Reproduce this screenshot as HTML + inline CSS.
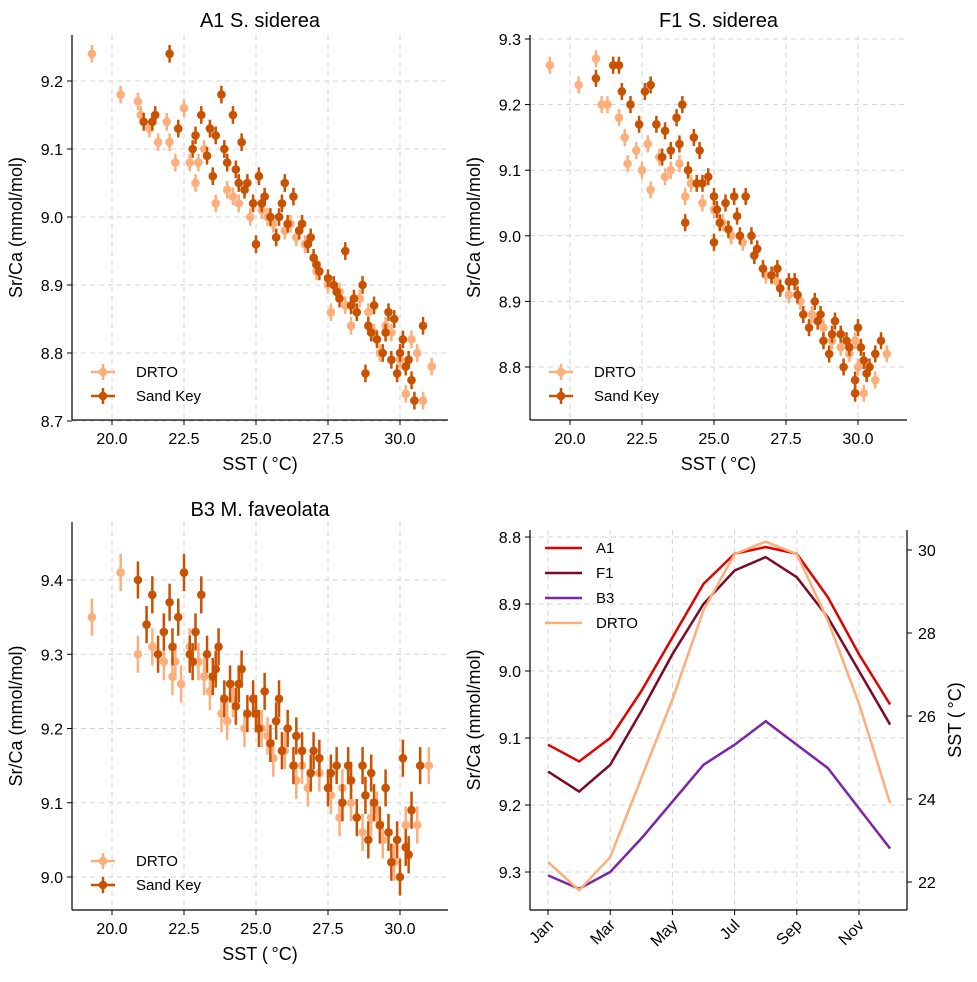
<!DOCTYPE html>
<html><head><meta charset="utf-8"><style>
body{margin:0;background:#fff}
svg{font-family:"Liberation Sans",Arial,sans-serif}
</style></head><body>
<svg id="c" width="977" height="977" viewBox="0 0 977 977" xmlns="http://www.w3.org/2000/svg"></svg>
<script>
// ---- data ----
const a1SandKey=[[22,9.24],[21.1,9.14],[21.5,9.15],[22.3,9.13],[22.8,9.10],[23.1,9.15],[23.4,9.13],[23.6,9.12],[23.8,9.18],[23.5,9.06],[24.0,9.08],[24.3,9.07],[24.5,9.11],[24.7,9.05],[24.9,9.02],[25.1,9.06],[25.3,9.03],[25.5,9.00],[25.7,8.97],[25.9,9.02],[26.1,8.99],[26.3,9.03],[26.5,8.98],[26.8,8.96],[27.0,8.94],[27.2,8.92],[27.5,8.91],[27.7,8.90],[27.9,8.88],[28.1,8.95],[28.3,8.87],[28.5,8.86],[28.7,8.90],[28.9,8.84],[29.1,8.87],[29.2,8.82],[29.4,8.80],[29.6,8.86],[29.8,8.85],[29.9,8.77],[30.1,8.82],[30.3,8.79],[30.4,8.76],[30.8,8.84],[28.8,8.77],[30.5,8.73],[24.2,9.15],[25.0,8.96],[26.0,9.05],
[21.4,9.14],[22.9,9.12],[23.3,9.09],[23.9,9.10],[24.6,9.04],[25.2,9.02],[25.8,9.00],[26.6,8.99],[27.1,8.93],[27.8,8.89],[28.4,8.88],[29.0,8.83],[29.5,8.83],[30.0,8.80],[30.2,8.78],[29.7,8.79],[26.9,8.97],[24.4,9.05]];
const a1Drto=[[19.3,9.24],[20.3,9.18],[20.9,9.17],[21.3,9.13],[21.6,9.11],[21.9,9.14],[22.2,9.08],[22.5,9.16],[22.7,9.08],[22.9,9.05],[23.2,9.10],[23.6,9.02],[24.0,9.04],[24.4,9.02],[24.8,9.00],[25.2,9.01],[25.6,8.99],[26.0,8.98],[26.4,8.97],[26.7,8.96],[27.1,8.92],[27.5,8.90],[27.6,8.86],[27.9,8.89],[28.3,8.84],[28.6,8.88],[28.9,8.86],[29.3,8.80],[29.5,8.84],[29.7,8.83],[30.0,8.79],[30.2,8.74],[30.6,8.80],[30.8,8.73],[31.1,8.78],[30.4,8.82],
[21.0,9.15],[22.0,9.11],[23.0,9.08],[24.2,9.03],[25.4,9.00],[26.2,8.99],[28.1,8.87],[29.1,8.83]];
const f1SandKey=[[20.9,9.24],[21.5,9.26],[21.7,9.26],[21.8,9.22],[22.1,9.20],[22.6,9.22],[22.8,9.23],[23.0,9.17],[23.3,9.16],[23.5,9.13],[23.7,9.18],[23.9,9.20],[24.1,9.10],[24.3,9.15],[24.5,9.13],[24.6,9.08],[24.8,9.09],[25.0,9.06],[25.2,9.02],[25.4,9.05],[25.5,9.01],[25.7,9.06],[25.9,9.00],[26.1,9.06],[26.3,9.00],[26.5,8.98],[26.7,8.95],[27.0,8.94],[27.3,8.92],[27.6,8.93],[27.9,8.91],[28.1,8.88],[28.3,8.86],[28.5,8.90],[28.7,8.88],[28.8,8.84],[29.0,8.82],[29.2,8.87],[29.4,8.85],[29.5,8.80],[29.7,8.83],[29.9,8.78],[30.0,8.86],[30.2,8.81],[30.3,8.79],[30.6,8.82],[30.8,8.84],[29.9,8.76],[24.0,9.02],[25.0,8.99],
[22.4,9.17],[23.2,9.12],[23.8,9.14],[24.4,9.08],[25.1,9.04],[25.8,9.03],[26.4,8.97],[27.2,8.95],[27.8,8.93],[28.6,8.87],[29.1,8.85],[29.6,8.84],[30.1,8.83],[30.4,8.80]];
const f1Drto=[[19.3,9.26],[20.3,9.23],[20.9,9.27],[21.3,9.20],[21.7,9.18],[22.0,9.11],[22.3,9.13],[22.5,9.10],[22.8,9.07],[23.1,9.12],[23.5,9.10],[23.8,9.11],[24.2,9.08],[24.6,9.05],[25.0,9.04],[25.3,9.02],[25.6,9.00],[26.0,8.99],[26.4,8.97],[26.8,8.94],[27.2,8.93],[27.6,8.91],[28.0,8.90],[28.4,8.88],[28.8,8.86],[29.1,8.84],[29.4,8.83],[29.7,8.82],[30.0,8.80],[30.2,8.76],[30.6,8.78],[31.0,8.82],
[21.1,9.20],[21.9,9.15],[22.7,9.14],[23.3,9.09],[24.0,9.06],[25.5,9.01],[27.0,8.94],[29.9,8.84]];
const b3SandKey=[[20.9,9.40],[21.2,9.34],[21.4,9.38],[21.6,9.30],[21.8,9.33],[22.0,9.37],[22.3,9.35],[22.5,9.41],[22.7,9.30],[22.9,9.33],[23.1,9.38],[23.3,9.30],[23.5,9.27],[23.7,9.31],[23.9,9.24],[24.1,9.26],[24.3,9.23],[24.5,9.28],[24.7,9.22],[24.9,9.24],[25.1,9.20],[25.3,9.25],[25.5,9.18],[25.7,9.21],[25.9,9.17],[26.1,9.20],[26.3,9.15],[26.6,9.17],[26.9,9.14],[27.2,9.16],[27.5,9.12],[27.8,9.15],[28.0,9.10],[28.3,9.13],[28.5,9.08],[28.7,9.15],[28.9,9.05],[29.1,9.10],[29.3,9.07],[29.5,9.12],[29.7,9.02],[29.9,9.05],[30.0,9.00],[30.2,9.04],[30.4,9.09],[30.7,9.15],[30.1,9.16],[29.0,9.14],
[22.1,9.31],[22.8,9.29],[23.6,9.28],[24.4,9.26],[25.0,9.22],[25.8,9.24],[26.4,9.19],[27.0,9.17],[27.6,9.14],[28.2,9.15],[28.8,9.11],[29.6,9.06],[30.3,9.03]];
const b3Drto=[[19.3,9.35],[20.3,9.41],[20.9,9.30],[21.4,9.31],[21.8,9.29],[22.1,9.27],[22.4,9.26],[22.7,9.31],[23.0,9.29],[23.4,9.25],[23.8,9.22],[24.2,9.24],[24.6,9.20],[25.0,9.22],[25.4,9.19],[25.6,9.16],[26.0,9.17],[26.4,9.13],[26.8,9.12],[27.2,9.14],[27.6,9.11],[27.9,9.08],[28.3,9.10],[28.7,9.06],[29.0,9.08],[29.4,9.05],[29.8,9.02],[30.2,9.07],[30.6,9.07],[31.0,9.15],
[22.2,9.29],[23.2,9.27],[24.0,9.21],[25.2,9.20],[26.6,9.15],[28.0,9.12],[29.2,9.09]];
const months=["Jan","Feb","Mar","Apr","May","Jun","Jul","Aug","Sep","Oct","Nov","Dec"];
const monthTicks=["Jan","Mar","May","Jul","Sep","Nov"];
const a1Clim=[9.11,9.135,9.10,9.03,8.95,8.87,8.825,8.815,8.825,8.89,8.975,9.05];
const f1Clim=[9.15,9.18,9.14,9.06,8.975,8.90,8.85,8.83,8.86,8.92,9.00,9.08];
const b3Clim=[9.305,9.325,9.30,9.25,9.195,9.14,9.11,9.075,9.11,9.145,9.205,9.265];
const drtoSst=[22.48,21.8,22.6,24.5,26.4,28.55,29.9,30.2,29.9,28.3,26.3,23.9];
const sstTicks=[20.0,22.5,25.0,27.5,30.0];
const a1Ticks=[8.7,8.8,8.9,9.0,9.1,9.2];
const f1Ticks=[8.8,8.9,9.0,9.1,9.2,9.3];
const b3Ticks=[9.0,9.1,9.2,9.3,9.4];
const climTicks=[8.8,8.9,9.0,9.1,9.2,9.3];
const rightTicks=[22,24,26,28,30];

const svg=document.getElementById('c');
const NS="http://www.w3.org/2000/svg";
function el(tag,attrs,parent,text){const e=document.createElementNS(NS,tag);for(const k in attrs)e.setAttribute(k,attrs[k]);if(text!==undefined)e.textContent=text;(parent||svg).appendChild(e);return e;}
function lin(d0,d1,r0,r1){return v=>r0+(v-d0)*(r1-r0)/(d1-d0);}
const LIGHT="#fdae7b",DARK="#c95200",GRID="#d3d3d3";

function scatterPanel(o){
  const g=el('g',{});
  
  
  const X=lin(20,30,o.x20,o.x30), Y=lin(o.ya,o.yb,o.pya,o.pyb);
  sstTicks.forEach(t=>{el('line',{x1:X(t),x2:X(t),y1:o.top,y2:o.bot,stroke:GRID,'stroke-dasharray':'5,4'},g);});
  o.yt.forEach(t=>{el('line',{x1:o.left,x2:o.right,y1:Y(t),y2:Y(t),stroke:GRID,'stroke-dasharray':'5,4'},g);});
  [[o.drto,LIGHT,'drto-point'],[o.sk,DARK,'sand-key-point']].forEach(([arr,col,nm])=>{
    arr.forEach(p=>{
      const cx=X(p[0]),cy=Y(p[1]);
      const e1=el('line',{x1:cx,x2:cx,y1:Y(p[1]+o.err),y2:Y(p[1]-o.err),stroke:col,'stroke-width':2.5},g);
      
      
      const c=el('circle',{cx:cx,cy:cy,r:4.3,fill:col},g);
      
      
    });
  });
  el('line',{x1:o.left,x2:o.left,y1:o.top,y2:o.bot,stroke:'#000','stroke-width':1.2},g);
  el('line',{x1:o.left,x2:o.right,y1:o.bot,y2:o.bot,stroke:'#000','stroke-width':1.2},g);
  sstTicks.forEach(t=>{el('line',{x1:X(t),x2:X(t),y1:o.bot,y2:o.bot+5,stroke:'#000'},g);
    const tx=el('text',{x:X(t),y:o.bot+24,'font-size':16,'text-anchor':'middle'},g,t.toFixed(1));
    });
  o.yt.forEach(t=>{el('line',{x1:o.left-5,x2:o.left,y1:Y(t),y2:Y(t),stroke:'#000'},g);
    const tx=el('text',{x:o.left-9,y:Y(t)+6,'font-size':16,'text-anchor':'end'},g,t.toFixed(1));
    });
  const cxm=(o.left+o.right)/2;
  const ti=el('text',{x:cxm,y:o.titleY,'font-size':20,'text-anchor':'middle'},g,o.title);
  
  const xl=el('text',{x:cxm,y:o.bot+50,'font-size':18,'text-anchor':'middle'},g,'SST (\u2009\u00b0C)');
  
  const ym=(o.top+o.bot)/2;
  const yl=el('text',{x:o.left-50,y:ym,'font-size':18,'text-anchor':'middle',transform:`rotate(-90 ${o.left-50} ${ym})`},g,'Sr/Ca (mmol/mol)');
  
  [[LIGHT,'DRTO',o.leg],[DARK,'Sand Key',o.leg+24]].forEach(([col,lab,ly])=>{
    const lg=el('g',{},g);
    
    
    const lx=o.left+31;
    el('line',{x1:lx-12,x2:lx+12,y1:ly,y2:ly,stroke:col,'stroke-width':2.5},lg);
    el('line',{x1:lx,x2:lx,y1:ly-8,y2:ly+8,stroke:col,'stroke-width':2.5},lg);
    el('circle',{cx:lx,cy:ly,r:4.3,fill:col},lg);
    el('text',{x:lx+33,y:ly+5,'font-size':15},lg,lab);
  });
}
scatterPanel({name:'a1-panel',title:'A1 S. siderea',x20:112,x30:400,ya:9.2,yb:8.7,pya:81,pyb:421,left:72,right:448,top:35,bot:420,titleY:27,yt:a1Ticks,sk:a1SandKey,drto:a1Drto,err:0.013,leg:372});
scatterPanel({name:'f1-panel',title:'F1 S. siderea',x20:570,x30:858,ya:9.3,yb:8.8,pya:39,pyb:367,left:530,right:907,top:35,bot:420,titleY:27,yt:f1Ticks,sk:f1SandKey,drto:f1Drto,err:0.013,leg:372});
scatterPanel({name:'b3-panel',title:'B3 M. faveolata',x20:112,x30:400,ya:9.4,yb:9.0,pya:580,pyb:877,left:72,right:448,top:522,bot:910,titleY:516,yt:b3Ticks,sk:b3SandKey,drto:b3Drto,err:0.025,leg:861});

// ---- climatology panel ----
(function(){
  const g=el('g',{});
  
  
  const left=530,right=907,top=530,bot=910;
  const X=i=>548+i*31.1;
  const Y=lin(8.8,9.3,537,872);
  const YR=lin(30,22,550,882);
  months.forEach((m,i)=>{if(monthTicks.includes(m))el('line',{x1:X(i),x2:X(i),y1:top,y2:bot,stroke:GRID,'stroke-dasharray':'5,4'},g);});
  climTicks.forEach(t=>el('line',{x1:left,x2:right,y1:Y(t),y2:Y(t),stroke:GRID,'stroke-dasharray':'5,4'},g));
  const series=[[a1Clim,'#e00000','A1',Y],[f1Clim,'#7b0a26','F1',Y],[b3Clim,'#7b25a8','B3',Y],[drtoSst,LIGHT,'DRTO',YR]];
  series.forEach(([arr,col,lab,sc])=>{
    const p=el('polyline',{points:arr.map((v,i)=>X(i)+','+sc(v)).join(' '),fill:'none',stroke:col,'stroke-width':2.5},g);
    
    
  });
  el('line',{x1:left,x2:left,y1:top,y2:bot,stroke:'#000','stroke-width':1.2},g);
  el('line',{x1:right,x2:right,y1:top,y2:bot,stroke:'#000','stroke-width':1.2},g);
  el('line',{x1:left,x2:right,y1:bot,y2:bot,stroke:'#000','stroke-width':1.2},g);
  months.forEach((m,i)=>{if(!monthTicks.includes(m))return;const x=X(i);
    el('line',{x1:x,x2:x,y1:bot,y2:bot+5,stroke:'#000'},g);
    const t=el('text',{x:x+6,y:bot+16,'font-size':16,'text-anchor':'end',transform:`rotate(-45 ${x+6} ${bot+16})`},g,m);
    });
  climTicks.forEach(t=>{el('line',{x1:left-5,x2:left,y1:Y(t),y2:Y(t),stroke:'#000'},g);
    const tx=el('text',{x:left-9,y:Y(t)+6,'font-size':16,'text-anchor':'end'},g,t.toFixed(1));
    });
  rightTicks.forEach(t=>{el('line',{x1:right,x2:right+5,y1:YR(t),y2:YR(t),stroke:'#000'},g);
    const tx=el('text',{x:right+11,y:YR(t)+6,'font-size':16},g,String(t));
    });
  const ym=(top+bot)/2;
  const yl=el('text',{x:left-50,y:ym,'font-size':18,'text-anchor':'middle',transform:`rotate(-90 ${left-50} ${ym})`},g,'Sr/Ca (mmol/mol)');
  
  const yr=el('text',{x:961,y:ym,'font-size':18,'text-anchor':'middle',transform:`rotate(-90 961 ${ym})`},g,'SST (\u2009\u00b0C)');
  
  series.forEach(([arr,col,lab],k)=>{
    const ly=548+k*25;
    const lg=el('g',{},g);
    
    
    el('line',{x1:545,x2:582,y1:ly,y2:ly,stroke:col,'stroke-width':2.5},lg);
    el('text',{x:596,y:ly+5,'font-size':15},lg,lab);
  });
})();
</script>
</body></html>
